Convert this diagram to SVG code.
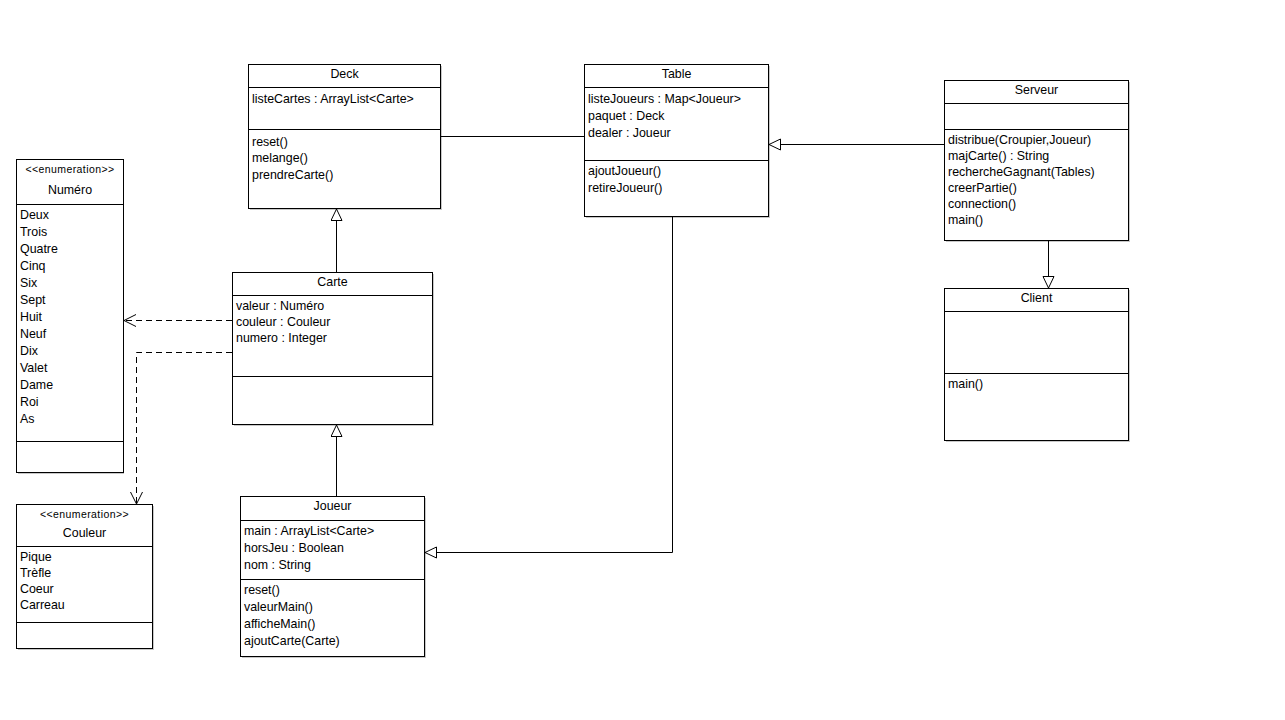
<svg xmlns="http://www.w3.org/2000/svg" width="1285" height="720" viewBox="0 0 1285 720">
  <defs>
    <style>
      text { font-family: "Liberation Sans", Arial, sans-serif; font-size: 12.4px; fill: #000; }
      .title { text-anchor: middle; }
      .stereo { font-size: 10.5px; text-anchor: middle; letter-spacing: 0.4px; }
      .box { fill: #fff; stroke: #000; stroke-width: 1; }
      .shadow { fill: #c8c8c8; }
      .sep { stroke: #000; stroke-width: 1; }
      .edge { fill: none; stroke: #000; stroke-width: 1; }
      .dash { stroke-dasharray: 6 4; }
    </style>
    <marker id="gen" markerWidth="14" markerHeight="14" refX="12" refY="6" orient="auto" markerUnits="userSpaceOnUse">
      <path d="M0.5,0.5 L12,6 L0.5,11.5 Z" fill="#fff" stroke="#000" stroke-width="1"/>
    </marker>
    <marker id="open" markerWidth="14" markerHeight="14" refX="12" refY="6" orient="auto" markerUnits="userSpaceOnUse">
      <path d="M0,0 L12,6 L0,12" fill="none" stroke="#000" stroke-width="1"/>
    </marker>
  </defs>
  <rect width="1285" height="720" fill="#fff"/>

  <!-- Deck -->
  <g id="deck">
    <rect class="shadow" x="250" y="66" width="192" height="144"/>
    <rect class="box" x="248.5" y="64.5" width="192" height="144"/>
    <line class="sep" x1="248.5" y1="87.5" x2="440.5" y2="87.5"/>
    <line class="sep" x1="248.5" y1="129.5" x2="440.5" y2="129.5"/>
    <text class="title" x="344.5" y="78">Deck</text>
    <text x="252" y="103">listeCartes : ArrayList&lt;Carte&gt;</text>
    <text x="252" y="146">reset()</text>
    <text x="252" y="162">melange()</text>
    <text x="252" y="179">prendreCarte()</text>
  </g>

  <!-- Table -->
  <g id="table">
    <rect class="shadow" x="586" y="66" width="184" height="152"/>
    <rect class="box" x="584.5" y="64.5" width="184" height="152"/>
    <line class="sep" x1="584.5" y1="87.5" x2="768.5" y2="87.5"/>
    <line class="sep" x1="584.5" y1="160.5" x2="768.5" y2="160.5"/>
    <text class="title" x="676.5" y="78">Table</text>
    <text x="588" y="103">listeJoueurs : Map&lt;Joueur&gt;</text>
    <text x="588" y="120">paquet : Deck</text>
    <text x="588" y="137">dealer : Joueur</text>
    <text x="588" y="175">ajoutJoueur()</text>
    <text x="588" y="192">retireJoueur()</text>
  </g>

  <!-- Serveur -->
  <g id="serveur">
    <rect class="shadow" x="946" y="82" width="184" height="160"/>
    <rect class="box" x="944.5" y="80.5" width="184" height="160"/>
    <line class="sep" x1="944.5" y1="103.5" x2="1128.5" y2="103.5"/>
    <line class="sep" x1="944.5" y1="129.5" x2="1128.5" y2="129.5"/>
    <text class="title" x="1036.5" y="94">Serveur</text>
    <text x="948" y="144">distribue(Croupier,Joueur)</text>
    <text x="948" y="160">majCarte() : String</text>
    <text x="948" y="176">rechercheGagnant(Tables)</text>
    <text x="948" y="192">creerPartie()</text>
    <text x="948" y="208">connection()</text>
    <text x="948" y="224">main()</text>
  </g>

  <!-- Client -->
  <g id="client">
    <rect class="shadow" x="946" y="290" width="184" height="152"/>
    <rect class="box" x="944.5" y="288.5" width="184" height="152"/>
    <line class="sep" x1="944.5" y1="311.5" x2="1128.5" y2="311.5"/>
    <line class="sep" x1="944.5" y1="373.5" x2="1128.5" y2="373.5"/>
    <text class="title" x="1036.5" y="302">Client</text>
    <text x="948" y="388">main()</text>
  </g>

  <!-- Numéro -->
  <g id="numero">
    <rect class="shadow" x="18" y="161" width="106" height="313"/>
    <rect class="box" x="16.5" y="159.5" width="107" height="313"/>
    <line class="sep" x1="16.5" y1="204.5" x2="123.5" y2="204.5"/>
    <line class="sep" x1="16.5" y1="441.5" x2="123.5" y2="441.5"/>
    <text class="stereo" x="70" y="173">&lt;&lt;enumeration&gt;&gt;</text>
    <text class="title" x="70" y="194">Numéro</text>
    <text x="20" y="219">Deux</text>
    <text x="20" y="236">Trois</text>
    <text x="20" y="253">Quatre</text>
    <text x="20" y="270">Cinq</text>
    <text x="20" y="287">Six</text>
    <text x="20" y="304">Sept</text>
    <text x="20" y="321">Huit</text>
    <text x="20" y="338">Neuf</text>
    <text x="20" y="355">Dix</text>
    <text x="20" y="372">Valet</text>
    <text x="20" y="389">Dame</text>
    <text x="20" y="406">Roi</text>
    <text x="20" y="423">As</text>
  </g>

  <!-- Couleur -->
  <g id="couleur">
    <rect class="shadow" x="18" y="506" width="136" height="144"/>
    <rect class="box" x="16.5" y="504.5" width="136" height="144"/>
    <line class="sep" x1="16.5" y1="546.5" x2="152.5" y2="546.5"/>
    <line class="sep" x1="16.5" y1="622.5" x2="152.5" y2="622.5"/>
    <text class="stereo" x="84.5" y="518">&lt;&lt;enumeration&gt;&gt;</text>
    <text class="title" x="84.5" y="537">Couleur</text>
    <text x="20" y="561">Pique</text>
    <text x="20" y="577">Trèfle</text>
    <text x="20" y="593">Coeur</text>
    <text x="20" y="609">Carreau</text>
  </g>

  <!-- Carte -->
  <g id="carte">
    <rect class="shadow" x="234" y="274" width="200" height="152"/>
    <rect class="box" x="232.5" y="272.5" width="200" height="152"/>
    <line class="sep" x1="232.5" y1="295.5" x2="432.5" y2="295.5"/>
    <line class="sep" x1="232.5" y1="376.5" x2="432.5" y2="376.5"/>
    <text class="title" x="332.5" y="286">Carte</text>
    <text x="236" y="310">valeur : Numéro</text>
    <text x="236" y="326">couleur : Couleur</text>
    <text x="236" y="342">numero : Integer</text>
  </g>

  <!-- Joueur -->
  <g id="joueur">
    <rect class="shadow" x="242" y="498" width="184" height="160"/>
    <rect class="box" x="240.5" y="496.5" width="184" height="160"/>
    <line class="sep" x1="240.5" y1="520.5" x2="424.5" y2="520.5"/>
    <line class="sep" x1="240.5" y1="579.5" x2="424.5" y2="579.5"/>
    <text class="title" x="332.5" y="510">Joueur</text>
    <text x="244" y="535">main : ArrayList&lt;Carte&gt;</text>
    <text x="244" y="552">horsJeu : Boolean</text>
    <text x="244" y="569">nom : String</text>
    <text x="244" y="594">reset()</text>
    <text x="244" y="611">valeurMain()</text>
    <text x="244" y="628">afficheMain()</text>
    <text x="244" y="645">ajoutCarte(Carte)</text>
  </g>

  <!-- connectors: association, generalizations and dependencies -->
  <g id="connectors">
    <line class="edge" x1="441" y1="136.5" x2="584" y2="136.5"/>
    <line class="edge" x1="336.5" y1="272" x2="336.5" y2="209" marker-end="url(#gen)"/>
    <line class="edge" x1="336.5" y1="496" x2="336.5" y2="425" marker-end="url(#gen)"/>
    <polyline class="edge" points="672.5,217 672.5,552.5 425,552.5" marker-end="url(#gen)"/>
    <line class="edge" x1="944" y1="144.5" x2="769" y2="144.5" marker-end="url(#gen)"/>
    <line class="edge" x1="1048.5" y1="241" x2="1048.5" y2="288" marker-end="url(#gen)"/>
    <line class="edge dash" x1="232" y1="320.5" x2="124" y2="320.5" marker-end="url(#open)"/>
    <polyline class="edge dash" points="232,352.5 136.5,352.5 136.5,504" marker-end="url(#open)"/>
  </g>
</svg>
